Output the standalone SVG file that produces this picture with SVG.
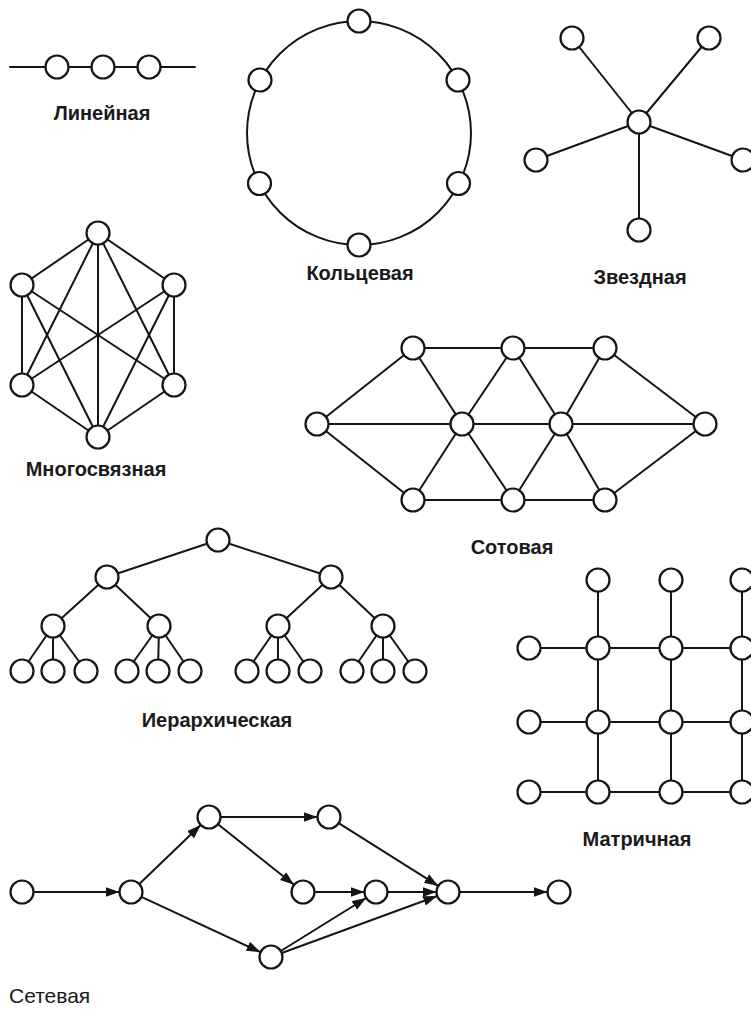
<svg xmlns="http://www.w3.org/2000/svg" width="751" height="1010" viewBox="0 0 751 1010">
<style>
.e{stroke:#151515;stroke-width:2;fill:none;stroke-linecap:round}
.n{fill:#fff;stroke:#151515;stroke-width:2.2}
.lb{font-family:"Liberation Sans",Arial,sans-serif;font-size:20px;font-weight:bold;fill:#1a1a1a;text-anchor:middle}
.lr{font-family:"Liberation Sans",Arial,sans-serif;font-size:21px;fill:#1a1a1a}
</style>
<defs>
<marker id="ar" markerWidth="15" markerHeight="11" refX="14" refY="5" orient="auto" markerUnits="userSpaceOnUse">
<path d="M0,0 L14,5 L0,10 z" fill="#151515"/>
</marker>
</defs>
<rect width="751" height="1010" fill="#fff"/>

<g id="connectors">
<!-- linear -->
<line class="e" x1="10" y1="67" x2="195" y2="67"/>
<!-- ring -->
<circle class="e" cx="359" cy="133" r="112"/>
<!-- star -->
<line class="e" x1="639" y1="122" x2="572" y2="38"/>
<line class="e" x1="639" y1="122" x2="709" y2="38"/>
<line class="e" x1="639" y1="122" x2="536" y2="160"/>
<line class="e" x1="639" y1="122" x2="743" y2="160"/>
<line class="e" x1="639" y1="122" x2="639" y2="230"/>
<!-- multi -->
<line class="e" x1="98" y1="233" x2="22" y2="285"/>
<line class="e" x1="98" y1="233" x2="174" y2="285"/>
<line class="e" x1="98" y1="233" x2="22" y2="385"/>
<line class="e" x1="98" y1="233" x2="174" y2="385"/>
<line class="e" x1="98" y1="233" x2="98" y2="437"/>
<line class="e" x1="22" y1="285" x2="22" y2="385"/>
<line class="e" x1="22" y1="285" x2="174" y2="385"/>
<line class="e" x1="22" y1="285" x2="98" y2="437"/>
<line class="e" x1="174" y1="285" x2="174" y2="385"/>
<line class="e" x1="174" y1="285" x2="22" y2="385"/>
<line class="e" x1="174" y1="285" x2="98" y2="437"/>
<line class="e" x1="22" y1="385" x2="98" y2="437"/>
<line class="e" x1="174" y1="385" x2="98" y2="437"/>
<!-- honeycomb -->
<line class="e" x1="317" y1="424" x2="705" y2="424"/>
<line class="e" x1="413" y1="348" x2="605" y2="348"/>
<line class="e" x1="413" y1="500" x2="605" y2="500"/>
<line class="e" x1="317" y1="424" x2="413" y2="348"/>
<line class="e" x1="317" y1="424" x2="413" y2="500"/>
<line class="e" x1="705" y1="424" x2="605" y2="348"/>
<line class="e" x1="705" y1="424" x2="605" y2="500"/>
<line class="e" x1="413" y1="348" x2="462" y2="424"/>
<line class="e" x1="513" y1="348" x2="462" y2="424"/>
<line class="e" x1="513" y1="348" x2="561" y2="424"/>
<line class="e" x1="605" y1="348" x2="561" y2="424"/>
<line class="e" x1="413" y1="500" x2="462" y2="424"/>
<line class="e" x1="513" y1="500" x2="462" y2="424"/>
<line class="e" x1="513" y1="500" x2="561" y2="424"/>
<line class="e" x1="605" y1="500" x2="561" y2="424"/>
<!-- hierarchy -->
<line class="e" x1="218" y1="540" x2="107" y2="577"/>
<line class="e" x1="218" y1="540" x2="331" y2="577"/>
<line class="e" x1="107" y1="577" x2="53" y2="626"/>
<line class="e" x1="107" y1="577" x2="159" y2="626"/>
<line class="e" x1="331" y1="577" x2="278" y2="626"/>
<line class="e" x1="331" y1="577" x2="383" y2="626"/>
<line class="e" x1="53" y1="626" x2="22" y2="671"/>
<line class="e" x1="53" y1="626" x2="53" y2="671"/>
<line class="e" x1="53" y1="626" x2="86" y2="671"/>
<line class="e" x1="159" y1="626" x2="127" y2="671"/>
<line class="e" x1="159" y1="626" x2="158" y2="671"/>
<line class="e" x1="159" y1="626" x2="190" y2="671"/>
<line class="e" x1="278" y1="626" x2="247" y2="671"/>
<line class="e" x1="278" y1="626" x2="278" y2="671"/>
<line class="e" x1="278" y1="626" x2="310" y2="671"/>
<line class="e" x1="383" y1="626" x2="352" y2="671"/>
<line class="e" x1="383" y1="626" x2="383" y2="671"/>
<line class="e" x1="383" y1="626" x2="415" y2="671"/>
<!-- matrix -->
<line class="e" x1="598" y1="580" x2="598" y2="792"/>
<line class="e" x1="671" y1="580" x2="671" y2="792"/>
<line class="e" x1="742" y1="580" x2="742" y2="792"/>
<line class="e" x1="529" y1="648" x2="742" y2="648"/>
<line class="e" x1="529" y1="722" x2="742" y2="722"/>
<line class="e" x1="529" y1="792" x2="742" y2="792"/>
<!-- network -->
<line class="e" x1="33.5" y1="892" x2="119.5" y2="892" marker-end="url(#ar)"/>
<line class="e" x1="139.3" y1="884" x2="200.7" y2="825" marker-end="url(#ar)"/>
<line class="e" x1="141.4" y1="896.8" x2="260.6" y2="952.2" marker-end="url(#ar)"/>
<line class="e" x1="220.5" y1="817" x2="317.5" y2="817" marker-end="url(#ar)"/>
<line class="e" x1="218" y1="824.2" x2="294" y2="884.8" marker-end="url(#ar)"/>
<line class="e" x1="338.7" y1="823.1" x2="438.3" y2="885.9" marker-end="url(#ar)"/>
<line class="e" x1="314.5" y1="892" x2="364.5" y2="892" marker-end="url(#ar)"/>
<line class="e" x1="387.5" y1="892" x2="436.5" y2="892" marker-end="url(#ar)"/>
<line class="e" x1="280.8" y1="951" x2="366.2" y2="898" marker-end="url(#ar)"/>
<line class="e" x1="281.8" y1="953" x2="437.2" y2="896" marker-end="url(#ar)"/>
<line class="e" x1="459.5" y1="892" x2="547.5" y2="892" marker-end="url(#ar)"/>
</g>

<g id="linear">
<g id="lin1"><circle class="n" cx="57" cy="67" r="11.5"/></g>
<g id="lin2"><circle class="n" cx="103" cy="67" r="11.5"/></g>
<g id="lin3"><circle class="n" cx="149" cy="67" r="11.5"/></g>
<text class="lb" x="102" y="120">Линейная</text>
</g>

<g id="ring">
<g id="ring1"><circle class="n" cx="359" cy="21" r="11.5"/></g>
<g id="ring2"><circle class="n" cx="260" cy="80" r="11.5"/></g>
<g id="ring3"><circle class="n" cx="458" cy="80" r="11.5"/></g>
<g id="ring4"><circle class="n" cx="259.5" cy="183.5" r="11.5"/></g>
<g id="ring5"><circle class="n" cx="458.5" cy="183.5" r="11.5"/></g>
<g id="ring6"><circle class="n" cx="359" cy="245" r="11.5"/></g>
<text class="lb" x="360" y="280">Кольцевая</text>
</g>

<g id="star">
<g id="star-c"><circle class="n" cx="639" cy="122" r="11.5"/></g>
<g id="star1"><circle class="n" cx="572" cy="38" r="11.5"/></g>
<g id="star2"><circle class="n" cx="709" cy="38" r="11.5"/></g>
<g id="star3"><circle class="n" cx="536" cy="160" r="11.5"/></g>
<g id="star4"><circle class="n" cx="743" cy="160" r="11.5"/></g>
<g id="star5"><circle class="n" cx="639" cy="230" r="11.5"/></g>
<text class="lb" x="640" y="284">Звездная</text>
</g>

<g id="multi">
<g id="mu1"><circle class="n" cx="98" cy="233" r="11.5"/></g>
<g id="mu2"><circle class="n" cx="22" cy="285" r="11.5"/></g>
<g id="mu3"><circle class="n" cx="174" cy="285" r="11.5"/></g>
<g id="mu4"><circle class="n" cx="22" cy="385" r="11.5"/></g>
<g id="mu5"><circle class="n" cx="174" cy="385" r="11.5"/></g>
<g id="mu6"><circle class="n" cx="98" cy="437" r="11.5"/></g>
<text class="lb" x="96" y="476">Многосвязная</text>
</g>

<g id="honeycomb">
<g id="hc1"><circle class="n" cx="317" cy="424" r="11.5"/></g>
<g id="hc2"><circle class="n" cx="413" cy="348" r="11.5"/></g>
<g id="hc3"><circle class="n" cx="513" cy="348" r="11.5"/></g>
<g id="hc4"><circle class="n" cx="605" cy="348" r="11.5"/></g>
<g id="hc5"><circle class="n" cx="462" cy="424" r="11.5"/></g>
<g id="hc6"><circle class="n" cx="561" cy="424" r="11.5"/></g>
<g id="hc7"><circle class="n" cx="705" cy="424" r="11.5"/></g>
<g id="hc8"><circle class="n" cx="413" cy="500" r="11.5"/></g>
<g id="hc9"><circle class="n" cx="513" cy="500" r="11.5"/></g>
<g id="hc10"><circle class="n" cx="605" cy="500" r="11.5"/></g>
<text class="lb" x="512" y="554">Сотовая</text>
</g>

<g id="hierarchy">
<g id="hi-root"><circle class="n" cx="218" cy="540" r="11.5"/></g>
<g id="hi-a"><circle class="n" cx="107" cy="577" r="11.5"/></g>
<g id="hi-b"><circle class="n" cx="331" cy="577" r="11.5"/></g>
<g id="hi-a1"><circle class="n" cx="53" cy="626" r="11.5"/></g>
<g id="hi-a2"><circle class="n" cx="159" cy="626" r="11.5"/></g>
<g id="hi-b1"><circle class="n" cx="278" cy="626" r="11.5"/></g>
<g id="hi-b2"><circle class="n" cx="383" cy="626" r="11.5"/></g>
<g id="hi-l1"><circle class="n" cx="22" cy="671" r="11.5"/></g>
<g id="hi-l2"><circle class="n" cx="53" cy="671" r="11.5"/></g>
<g id="hi-l3"><circle class="n" cx="86" cy="671" r="11.5"/></g>
<g id="hi-l4"><circle class="n" cx="127" cy="671" r="11.5"/></g>
<g id="hi-l5"><circle class="n" cx="158" cy="671" r="11.5"/></g>
<g id="hi-l6"><circle class="n" cx="190" cy="671" r="11.5"/></g>
<g id="hi-l7"><circle class="n" cx="247" cy="671" r="11.5"/></g>
<g id="hi-l8"><circle class="n" cx="278" cy="671" r="11.5"/></g>
<g id="hi-l9"><circle class="n" cx="310" cy="671" r="11.5"/></g>
<g id="hi-l10"><circle class="n" cx="352" cy="671" r="11.5"/></g>
<g id="hi-l11"><circle class="n" cx="383" cy="671" r="11.5"/></g>
<g id="hi-l12"><circle class="n" cx="415" cy="671" r="11.5"/></g>
<text class="lb" x="217" y="727">Иерархическая</text>
</g>

<g id="matrix">
<g id="mx-t1"><circle class="n" cx="598" cy="580" r="11.5"/></g>
<g id="mx-t2"><circle class="n" cx="671" cy="580" r="11.5"/></g>
<g id="mx-t3"><circle class="n" cx="742" cy="580" r="11.5"/></g>
<g id="mx-l1"><circle class="n" cx="529" cy="648" r="11.5"/></g>
<g id="mx-l2"><circle class="n" cx="529" cy="722" r="11.5"/></g>
<g id="mx-l3"><circle class="n" cx="529" cy="792" r="11.5"/></g>
<g id="mx-11"><circle class="n" cx="598" cy="648" r="11.5"/></g>
<g id="mx-12"><circle class="n" cx="671" cy="648" r="11.5"/></g>
<g id="mx-13"><circle class="n" cx="742" cy="648" r="11.5"/></g>
<g id="mx-21"><circle class="n" cx="598" cy="722" r="11.5"/></g>
<g id="mx-22"><circle class="n" cx="671" cy="722" r="11.5"/></g>
<g id="mx-23"><circle class="n" cx="742" cy="722" r="11.5"/></g>
<g id="mx-31"><circle class="n" cx="598" cy="792" r="11.5"/></g>
<g id="mx-32"><circle class="n" cx="671" cy="792" r="11.5"/></g>
<g id="mx-33"><circle class="n" cx="742" cy="792" r="11.5"/></g>
<text class="lb" x="637" y="846">Матричная</text>
</g>

<g id="network">
<g id="nw1"><circle class="n" cx="22" cy="892" r="11.5"/></g>
<g id="nw2"><circle class="n" cx="131" cy="892" r="11.5"/></g>
<g id="nw3"><circle class="n" cx="209" cy="817" r="11.5"/></g>
<g id="nw4"><circle class="n" cx="329" cy="817" r="11.5"/></g>
<g id="nw5"><circle class="n" cx="303" cy="892" r="11.5"/></g>
<g id="nw6"><circle class="n" cx="376" cy="892" r="11.5"/></g>
<g id="nw7"><circle class="n" cx="448" cy="892" r="11.5"/></g>
<g id="nw8"><circle class="n" cx="559" cy="892" r="11.5"/></g>
<g id="nw9"><circle class="n" cx="271" cy="957" r="11.5"/></g>
<text class="lr" x="9" y="1003">Сетевая</text>
</g>
</svg>
